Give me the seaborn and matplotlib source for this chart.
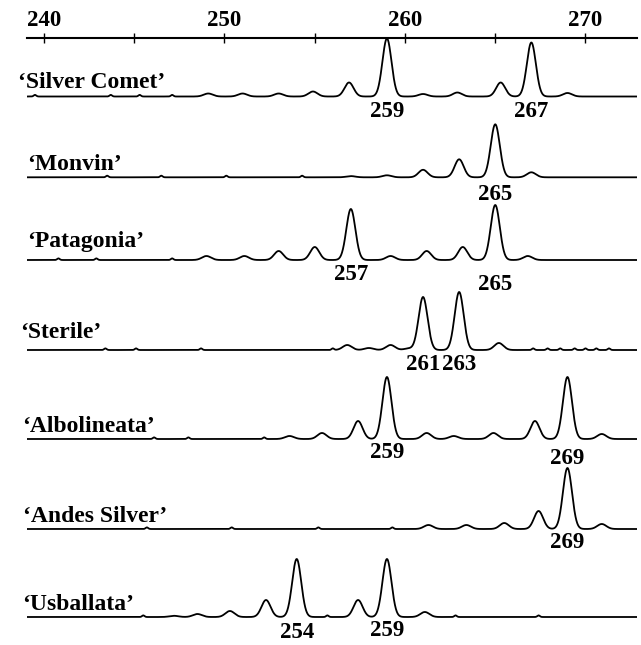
import numpy as np
import pandas as pd
import matplotlib
matplotlib.use("Agg")
import matplotlib.pyplot as plt
import seaborn as sns

# ---------------------------------------------------------------------------
# Data: fragment sizes (bp) and peak heights of each electropherogram
# ---------------------------------------------------------------------------
cultivars = ["‘Silver Comet’", "‘Monvin’", "‘Patagonia’", "‘Sterile’",
             "‘Albolineata’", "‘Andes Silver’", "‘Usballata’"]

silver_comet_sizes = [249.1, 251.0, 253.0, 254.9, 256.9, 259.0, 261.0, 262.9, 265.3, 267.0, 269.0]
silver_comet_heights = [3, 3, 3, 5, 14, 58, 2.5, 4, 14, 54, 3.5]
silver_comet_specks = [239.5, 243.7, 245.3, 247.1]

monvin_sizes = [257.0, 259.0, 261.0, 263.0, 265.0, 267.0]
monvin_heights = [1.2, 2, 7.5, 18, 53, 5]
monvin_specks = [243.5, 246.5, 250.1, 254.3]

patagonia_sizes = [249.0, 251.1, 253.0, 255.0, 257.0, 259.2, 261.2, 263.2, 265.0, 266.8]
patagonia_heights = [4, 4, 9, 13, 51, 4, 9, 13, 55, 4]
patagonia_specks = [240.8, 242.9, 247.1]

sterile_sizes = [256.8, 258.0, 259.2, 260.2, 261.0, 263.0, 265.2]
sterile_heights = [5, 2, 5, 1.5, 53, 58, 7]
sterile_specks = [243.4, 245.1, 248.7, 256.0, 267.1, 267.9, 268.6, 269.4, 270.0, 270.6, 271.3]

albolineata_sizes = [253.6, 255.4, 257.4, 259.0, 261.2, 262.7, 264.9, 267.2, 269.0, 270.9]
albolineata_heights = [3, 6, 18, 62, 6, 3, 6, 18, 62, 5]
albolineata_specks = [246.1, 248.0, 252.2]

andes_silver_sizes = [261.3, 263.4, 265.5, 267.4, 269.0, 270.9]
andes_silver_heights = [4, 4, 6, 18, 61, 5]
andes_silver_specks = [245.7, 250.4, 255.2, 259.3]

usballata_sizes = [247.2, 248.5, 250.3, 252.3, 254.0, 257.4, 259.0, 261.1]
usballata_heights = [1.2, 3, 6, 17, 58, 17, 58, 5]
usballata_specks = [245.5, 255.7, 262.8, 267.4]

allele_calls = [[259, 267], [265], [257, 265], [261, 263], [259, 269], [269], [254, 259]]

size_ticks = [240, 245, 250, 255, 260, 265, 270]
size_tick_labels = ["240", "", "250", "", "260", "", "270"]

trace_sizes = [silver_comet_sizes, monvin_sizes, patagonia_sizes, sterile_sizes,
               albolineata_sizes, andes_silver_sizes, usballata_sizes]
trace_heights = [silver_comet_heights, monvin_heights, patagonia_heights, sterile_heights,
                 albolineata_heights, andes_silver_heights, usballata_heights]
trace_specks = [silver_comet_specks, monvin_specks, patagonia_specks, sterile_specks,
                albolineata_specks, andes_silver_specks, usballata_specks]

# ---------------------------------------------------------------------------
# Layout (pixels; vertical values measured from the bottom of the figure)
# ---------------------------------------------------------------------------
FIG_W, FIG_H = 641, 645
AX_LEFT, AX_RIGHT, AX_TOP = 26.7, 637.0, 38.3
PX_PER_BP, PX_AT_240 = 18.05, 44.0
baselines = [548.5, 467.7, 385.0, 295.0, 206.0, 116.0, 28.0]
name_x = [18, 27, 27, 20, 22, 23, 22]
name_lift = [9, 7, 13, 12, 7, 7, 7]
call_drop = [[15, 15], [17], [14, 24], [15, 15], [14, 20], [13], [16, 14]]
PEAK_SD, SPECK_SD, SPECK_H = 0.25, 0.07, 1.6

sns.set_theme(style="white")
plt.rcParams["font.family"] = ["Liberation Serif", "DejaVu Serif"]
plt.rcParams["font.weight"] = "bold"

fig = plt.figure(figsize=(FIG_W / 100, FIG_H / 100), dpi=100)
ax = fig.add_axes([AX_LEFT / FIG_W, 0, (AX_RIGHT - AX_LEFT) / FIG_W, (FIG_H - AX_TOP) / FIG_H])

x_lo = 240 - (PX_AT_240 - AX_LEFT) / PX_PER_BP
x_hi = 240 + (AX_RIGHT - PX_AT_240) / PX_PER_BP
grid = np.linspace(x_lo, x_hi, 4000)


def signal(sizes, heights, specks):
    y = np.zeros_like(grid)
    for s, h in zip(sizes, heights):
        y += h * np.exp(-0.5 * ((grid - s) / PEAK_SD) ** 2)
    for s in specks:
        y += SPECK_H * np.exp(-0.5 * ((grid - s) / SPECK_SD) ** 2)
    return y


frames = []
for name, sizes, heights, specks, base in zip(cultivars, trace_sizes, trace_heights,
                                               trace_specks, baselines):
    frames.append(pd.DataFrame({"size": grid,
                                "level": base + signal(sizes, heights, specks),
                                "cultivar": name}))
df = pd.concat(frames, ignore_index=True)

sns.lineplot(data=df, x="size", y="level", hue="cultivar", palette=["black"] * len(cultivars),
             estimator=None, sort=False, legend=False, linewidth=1.3, ax=ax)

# cultivar names and allele calls
for i, name in enumerate(cultivars):
    fig.text(name_x[i] / FIG_W, (baselines[i] + name_lift[i]) / FIG_H, name,
             ha="left", va="baseline", fontsize=17, fontweight="bold", color="black")
    for call, drop in zip(allele_calls[i], call_drop[i]):
        ax.text(call, baselines[i] - drop, str(call), ha="center", va="center",
                fontsize=16.5, fontweight="bold", color="black")

ax.set_xlim(x_lo, x_hi)
ax.set_ylim(0, FIG_H - AX_TOP)
ax.set_xlabel("")
ax.set_ylabel("")
ax.set_xticks(size_ticks)
ax.set_xticklabels(size_tick_labels)
ax.tick_params(axis="x", top=True, labeltop=True, bottom=False, labelbottom=False,
               direction="inout", length=7.2, width=1.0, pad=1.5, labelsize=16.5,
               colors="black")
for lbl in ax.get_xticklabels():
    lbl.set_fontweight("bold")
ax.tick_params(axis="y", left=False, labelleft=False)
for side in ("left", "right", "bottom"):
    ax.spines[side].set_visible(False)
ax.spines["top"].set_color("black")
ax.spines["top"].set_linewidth(1.5)
ax.patch.set_alpha(0)

fig.savefig("out.png", dpi=100)
